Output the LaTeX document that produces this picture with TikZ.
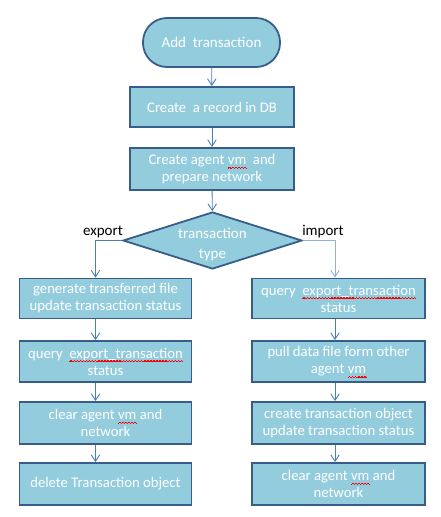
\documentclass[tikz,border=0pt]{standalone}
\usepackage{fontspec}
\setmainfont{Carlito}
\usetikzlibrary{arrows.meta,shapes.geometric}
\definecolor{boxfill}{HTML}{93CDDD}
\definecolor{boxline}{HTML}{385D8A}
\definecolor{flow}{HTML}{4A7EBB}
\definecolor{flowlight}{HTML}{8EB0DC}
% red wavy spell-check underline under a word, built from tiny rules
\newlength\spellwd
\newcommand\wavecell{\rule[-4.0pt]{0.5pt}{0.6pt}\rule[-3.5pt]{0.5pt}{0.6pt}\rule[-3.0pt]{0.5pt}{0.6pt}\rule[-3.0pt]{0.5pt}{0.6pt}\rule[-3.5pt]{0.5pt}{0.6pt}\rule[-4.0pt]{0.5pt}{0.6pt}}
\newcommand\spellmark[1]{\settowidth\spellwd{#1}\smash{\rlap{\color{red}\hbox to\spellwd{\xleaders\hbox{\wavecell}\hfil}}}#1}
\tikzset{
  stepbox/.style={draw=boxline, line width=1.8pt, fill=boxfill, text=white,
    font=\fontsize{14.7}{17}\selectfont, align=center, inner sep=0pt},
  terminal/.style={stepbox, rounded corners=24pt, minimum width=137pt, minimum height=49pt,
    font=\fontsize{15}{18}\selectfont},
  decision/.style={diamond, draw=boxline, line width=1.8pt, fill=boxfill, inner sep=0pt,
    minimum width=179pt, minimum height=57pt},
  arr/.style={draw=flow, line width=0.9pt, -{Straight Barb[length=6.5pt,width=8.5pt]}},
  branchlabel/.style={font=\fontsize{15}{18}\selectfont, text=black, inner sep=0pt},
}
\begin{document}
\begin{tikzpicture}[x=1pt,y=-1pt]
\useasboundingbox (0,0) rectangle (441,517);
\fill[white] (0,0) rectangle (441,517);

\node[terminal] (start) at (211.5,42.5) {Add~ transaction};
\node[stepbox, minimum width=164pt, minimum height=40pt] (rec) at (212,107) {Create ~a record in DB};
\node[stepbox, minimum width=164pt, minimum height=42pt] (vm) at (212,169) {Create agent \spellmark{vm}~ and\\prepare network};
\node[decision] (type) at (212.5,240.5) {};
\node[text=white, font=\fontsize{15}{20}\selectfont, align=center, inner sep=0pt] (typetext) at (212.5,244.5) {transaction\\type};

% export column
\node[stepbox, minimum width=172pt, minimum height=40pt] (e1) at (105.5,298.5) {generate transferred file\\update transaction status};
\node[stepbox, minimum width=172pt, minimum height=41pt] (e2) at (105.5,361.5) {query ~\spellmark{export\_transaction}\\status};
\node[stepbox, minimum width=172pt, minimum height=42pt] (e3) at (105.5,423) {clear agent \spellmark{vm} and\\network};
\node[stepbox, minimum width=172pt, minimum height=42pt] (e4) at (105.5,484) {delete Transaction object};

% import column
\node[stepbox, minimum width=173pt, minimum height=40pt] (i1) at (338.5,298.5) {query ~\spellmark{export\_transaction}\\status};
\node[stepbox, minimum width=173pt, minimum height=41pt] (i2) at (338.5,361.5) {pull data file form other\\agent \spellmark{vm}};
\node[stepbox, minimum width=173pt, minimum height=42pt] (i3) at (338.5,423) {create transaction object\\update transaction status};
\node[stepbox, minimum width=173pt, minimum height=42pt] (i4) at (338.5,484) {clear agent \spellmark{vm} and\\network};

\coordinate (lx) at (95.5,0);
\coordinate (rx) at (335,0);

\draw[arr] (start) -- (rec);
\draw[arr] (rec) -- (vm);
\draw[arr] (vm) -- (type);
\draw[arr] (type.west) -| (e1.north -| lx);
\draw[arr, draw=flowlight] (type.east) -| (i1.north -| rx);
\draw[arr] (e1.south -| lx) -- (e2.north -| lx);
\draw[arr] (e2.south -| lx) -- (e3.north -| lx);
\draw[arr] (e3.south -| lx) -- (e4.north -| lx);
\draw[arr] (i1.south -| rx) -- (i2.north -| rx);
\draw[arr] (i2.south -| rx) -- (i3.north -| rx);
\draw[arr] (i3.south -| rx) -- (i4.north -| rx);

\node[branchlabel] (exp) at (103,232) {export};
\node[branchlabel] (imp) at (323,232) {import};
\end{tikzpicture}
\end{document}
